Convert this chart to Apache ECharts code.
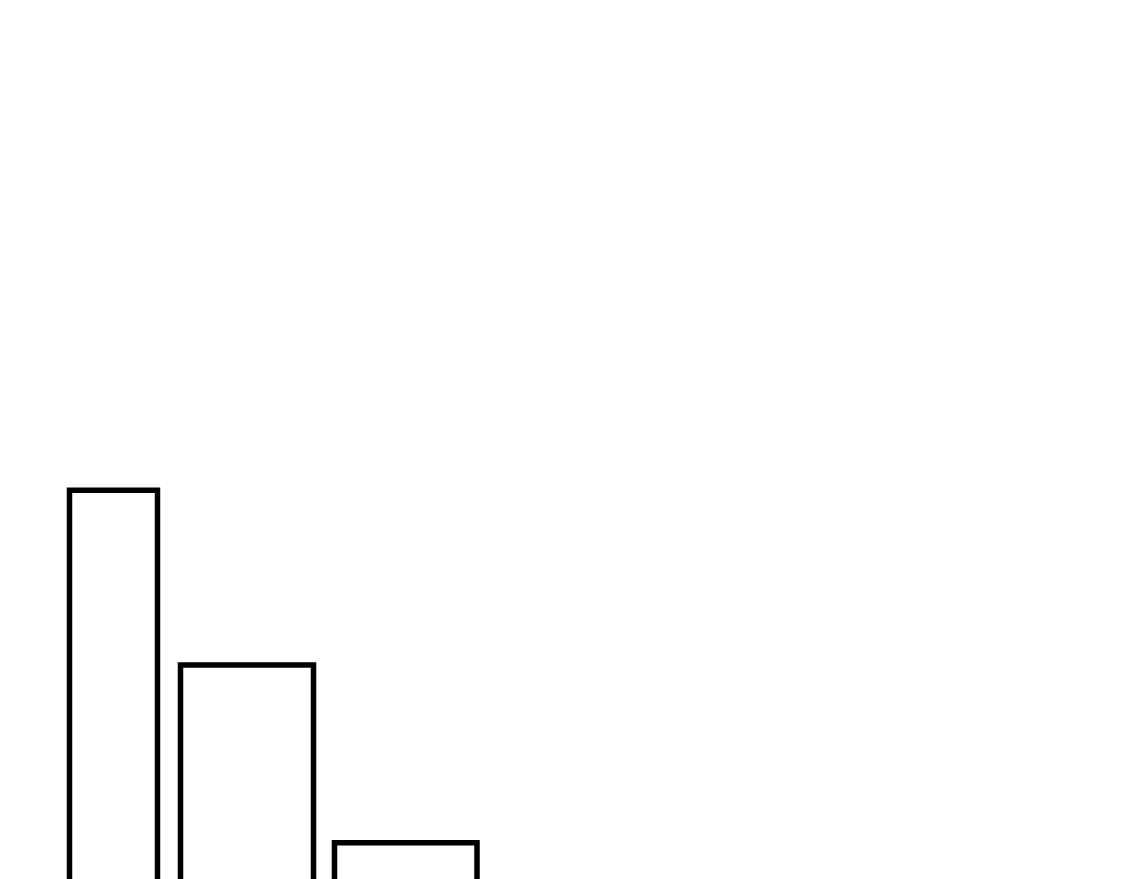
<!DOCTYPE html>
<html>
<head>
<meta charset="utf-8">
<title>bars</title>
<script src="https://cdn.jsdelivr.net/npm/echarts@6/dist/echarts.min.js"></script>
<style>
  html, body { margin: 0; padding: 0; background: #fff; }
  #chart { width: 1125px; height: 879px; }
</style>
</head>
<body>
<div id="chart"></div>
<script>
// bin edges on the x scale and bar heights on the y scale
var binStart = [6.95, 18.05, 33.45];
var binEnd   = [15.75, 31.35, 47.7];
var heights  = [49.8, 31.9, 13.7];

var rows = binStart.map(function (s, i) {
    return [s, binEnd[i], heights[i]];
});

var myChart = echarts.init(document.getElementById('chart'));
var option = {
    animation: false,
    backgroundColor: '#ffffff',
    grid: { left: 0, right: 0, top: 0, bottom: 0 },
    xAxis: { type: 'value', min: 0, max: 112.5, show: false },
    // the baseline (0) sits below the visible area, so only the tops show
    yAxis: { type: 'value', min: 10, max: 100, show: false },
    series: [{
        type: 'custom',
        clip: false,
        data: rows,
        renderItem: function (params, api) {
            var p0 = api.coord([api.value(0), 0]);
            var p1 = api.coord([api.value(1), api.value(2)]);
            return {
                type: 'rect',
                shape: {
                    x: p0[0],
                    y: p1[1],
                    width: p1[0] - p0[0],
                    height: p0[1] - p1[1]
                },
                style: { fill: '#ffffff', stroke: '#000000', lineWidth: 5.5 }
            };
        }
    }]
};
myChart.setOption(option);
window.addEventListener('resize', function () {
    myChart.resize();
});
</script>
</body>
</html>
